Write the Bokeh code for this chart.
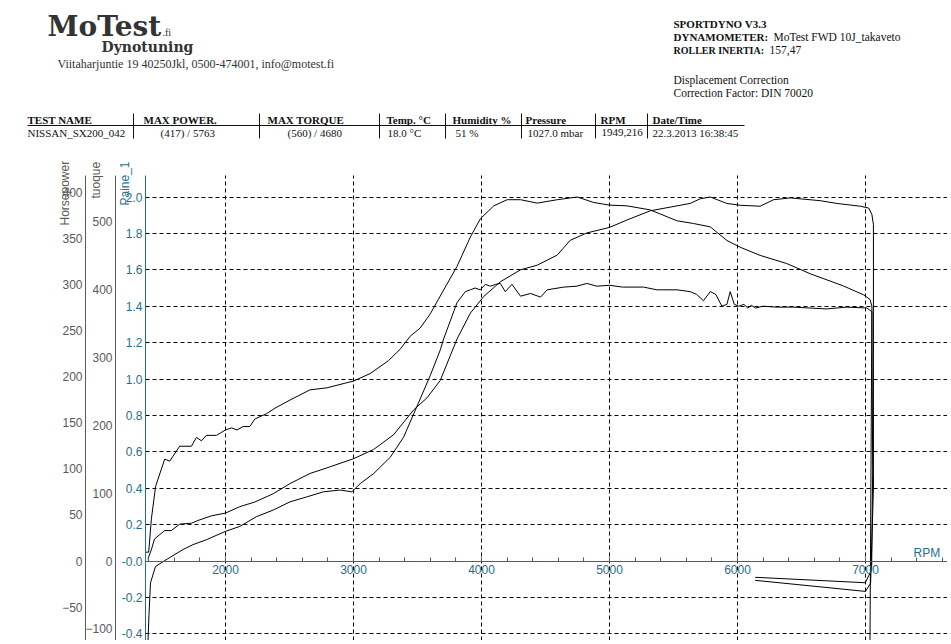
import math
from bokeh.plotting import figure
from bokeh.models import (Range1d, LinearAxis, FixedTicker, SingleIntervalTicker,
                          NumeralTickFormatter, Label, BoxAnnotation)
from bokeh.embed import file_html
from bokeh.resources import INLINE

# ---------------- data ----------------
torque_rpm = [1378, 1400, 1421, 1454, 1525, 1564, 1642, 1734, 1773, 1812, 1851, 1930, 2000, 2047, 2090,
              2138, 2190, 2229, 2321, 2386, 2504, 2660, 2791, 3000, 3130, 3273, 3365, 3443, 3521, 3600,
              3704, 3809, 3913, 3991, 4096, 4200, 4305, 4435, 4592, 4749, 4875, 5000, 5136, 5318, 5527,
              5656, 5787, 5917, 6021, 6177, 6385, 6568, 6828, 6984, 7036, 7050, 7056, 7048, 6998, 6138]
torque_nm = [13, 13, 62, 110, 150, 147, 169, 169, 182, 177, 185, 185, 193, 196, 193,
             198, 198, 209, 217, 225, 237, 252, 255, 265, 276, 295, 312, 331, 343, 364,
             399, 434, 477, 504, 523, 532, 532, 527, 532, 536, 528, 524, 523, 517, 501,
             497, 492, 472, 462, 450, 438, 423, 405, 392, 385, 375, 134, -13, -32, -24]

power_rpm = [1394, 1420, 1446, 1525, 1577, 1642, 1734, 1786, 1890, 2000, 2112, 2229, 2373, 2504, 2660,
             2791, 3000, 3157, 3313, 3470, 3574, 3678, 3809, 3913, 4017, 4147, 4305, 4435, 4592, 4693,
             4823, 5000, 5136, 5318, 5474, 5630, 5708, 5787, 5917, 6021, 6177, 6281, 6412, 6646, 6777,
             6959, 7025, 7050, 7062, 7062, 7040, 7000, 6138]
power_hp = [2, 12, 24, 33, 33, 40, 41, 44, 49, 52, 59, 64, 73, 84, 95,
            101, 111, 121, 137, 164, 177, 196, 241, 269, 287, 303, 316, 321, 332, 348,
            356, 362, 370, 380, 384, 388, 393, 395, 388, 386, 385, 392, 394, 391, 388,
            385, 383, 376, 365, 79, -24, -33, -21]

boost_rpm = [1394, 1402, 1414, 1453, 1544, 1590, 1668, 1746, 1851, 2000, 2112, 2243, 2373, 2504, 2634,
             2765, 2895, 2987, 3052, 3157, 3287, 3391, 3496, 3600, 3678, 3704, 3809, 3874, 3913, 3950,
             3990, 4030, 4069, 4110, 4147, 4186, 4238, 4305, 4383, 4461, 4513, 4643, 4745, 4823, 4900,
             5000, 5100, 5266, 5370, 5527, 5630, 5680, 5734, 5787, 5830, 5878, 5917, 5943, 5975, 6010,
             6050, 6080, 6110, 6140, 6200, 6300, 6437, 6697, 6854, 7011, 7050, 7035]
boost_bar = [-0.45, -0.30, -0.12, -0.03, 0.01, 0.03, 0.063, 0.09, 0.117, 0.163, 0.19, 0.244, 0.28, 0.325, 0.352,
             0.38, 0.39, 0.38, 0.425, 0.48, 0.57, 0.68, 0.85, 1.02, 1.16, 1.22, 1.42, 1.48, 1.49, 1.50,
             1.49, 1.52, 1.51, 1.52, 1.525, 1.48, 1.52, 1.455, 1.47, 1.45, 1.49, 1.505, 1.51, 1.525, 1.51,
             1.515, 1.505, 1.505, 1.49, 1.49, 1.48, 1.465, 1.43, 1.48, 1.465, 1.40, 1.41, 1.48, 1.41, 1.40,
             1.41, 1.39, 1.405, 1.39, 1.40, 1.395, 1.395, 1.385, 1.395, 1.39, 1.37, -0.45]

rpm_ticks = [2000, 3000, 4000, 5000, 6000, 7000]
paine_ticks = [-0.4, -0.2, 0.0, 0.2, 0.4, 0.6, 0.8, 1.0, 1.2, 1.4, 1.6, 1.8, 2.0]
hp_ticks = [-50, 0, 50, 100, 150, 200, 250, 300, 350, 400]
torque_ticks = [-100, 0, 100, 200, 300, 400, 500]

header_cols = ["TEST NAME", "MAX POWER.", "MAX TORQUE", "Temp. \u00b0C", "Humidity %", "Pressure", "RPM", "Date/Time"]
header_vals = ["NISSAN_SX200_042", "(417) / 5763", "(560) / 4680", "18.0 \u00b0C", "51 %", "1027.0 mbar",
               "1949,216", "22.3.2013 16:38:45"]

# ---------------- layout constants ----------------
W, H = 947, 640
PX_RPM = 0.128          # pixels per rpm
PX_UNIT = 182.0         # pixels per Paine_1 unit
X0S, RPM0 = 145, 1375   # page x of the Paine_1 axis and its rpm
Y0S = 560.5             # page y of the zero line
XMIN_F = RPM0 - X0S / PX_RPM
XMAX_F = XMIN_F + W / PX_RPM
YMAX_F = Y0S / PX_UNIT
YMIN_F = YMAX_F - H / PX_UNIT
YTOP = (Y0S - 175) / PX_UNIT       # top end of the chart axes
HPF, NMF = 197.5, 268.0            # hp and Nm per Paine_1 unit
TEAL = "#1f6f8b"
GREY = "#5a5a5a"


def DX(xs):
    return XMIN_F + xs / PX_RPM


def DY(ys):
    return YMAX_F - ys / PX_UNIT


p = figure(width=W, height=H, x_range=Range1d(XMIN_F, XMAX_F), y_range=Range1d(YMIN_F, YMAX_F),
           output_backend="svg", toolbar_location=None,
           min_border_left=0, min_border_top=0, min_border_right=0, min_border_bottom=0)
p.outline_line_color = None
p.background_fill_color = "white"
p.border_fill_color = "white"
p.extra_y_ranges = {"hp": Range1d(YMIN_F * HPF, YMAX_F * HPF), "nm": Range1d(YMIN_F * NMF, YMAX_F * NMF)}

# x axis through zero
xa = p.xaxis[0]
xa.fixed_location = 0
xa.bounds = (RPM0, XMAX_F)
xa.ticker = SingleIntervalTicker(interval=1000, num_minor_ticks=5)
xa.axis_line_color = TEAL
xa.major_tick_line_color = TEAL
xa.minor_tick_line_color = TEAL
xa.major_tick_in = 4
xa.major_tick_out = 0
xa.minor_tick_in = 4
xa.minor_tick_out = 0
xa.major_label_text_color = TEAL
xa.major_label_text_font = "Liberation Sans"
xa.major_label_text_font_size = "12px"
xa.major_label_standoff = 4

# Paine_1 axis
ya = p.yaxis[0]
ya.fixed_location = RPM0
ya.bounds = (YMIN_F, YTOP)
ya.ticker = FixedTicker(ticks=paine_ticks)
ya.formatter = NumeralTickFormatter(format="0.0")
ya.major_label_overrides = {0.0: "-0.0"}
ya.axis_line_color = TEAL
ya.major_tick_in = 0
ya.major_tick_out = 0
ya.minor_tick_line_color = None
ya.major_label_text_color = TEAL
ya.major_label_text_font = "Liberation Sans"
ya.major_label_text_font_size = "12px"
ya.major_label_standoff = 3

nm_axis = LinearAxis(y_range_name="nm", ticker=FixedTicker(ticks=torque_ticks),
                     fixed_location=DX(115), bounds=(YMIN_F * NMF, YTOP * NMF))
hp_axis = LinearAxis(y_range_name="hp", ticker=FixedTicker(ticks=hp_ticks),
                     fixed_location=DX(85), bounds=(YMIN_F * HPF, YTOP * HPF))
for ax in (nm_axis, hp_axis):
    ax.axis_line_color = GREY
    ax.major_tick_in = 0
    ax.major_tick_out = 0
    ax.minor_tick_line_color = None
    ax.major_label_text_color = GREY
    ax.major_label_text_font = "Liberation Sans"
    ax.major_label_text_font_size = "12px"
    ax.major_label_standoff = 3
p.add_layout(nm_axis, "left")
p.add_layout(hp_axis, "left")

grid_ok = True
try:
    p.xgrid[0].cross_bounds = (YMIN_F, YTOP)
    p.ygrid[0].cross_bounds = (RPM0, XMAX_F)
except Exception:
    grid_ok = False

if grid_ok:
    for g in (p.xgrid[0], p.ygrid[0]):
        g.grid_line_color = "black"
        g.grid_line_dash = "4 3"
        g.grid_line_width = 1
else:
    p.xgrid.visible = False
    p.ygrid.visible = False
    p.segment(x0=rpm_ticks, y0=[YMIN_F] * len(rpm_ticks), x1=rpm_ticks, y1=[YTOP] * len(rpm_ticks),
              line_color="black", line_dash="4 3", line_width=1)
    p.segment(x0=[RPM0] * len(paine_ticks), y0=paine_ticks, x1=[XMAX_F] * len(paine_ticks), y1=paine_ticks,
              line_color="black", line_dash="4 3", line_width=1)

# curves
p.line(torque_rpm, torque_nm, y_range_name="nm", line_color="black", line_width=1)
p.line(power_rpm, power_hp, y_range_name="hp", line_color="black", line_width=1)
p.line(boost_rpm, boost_bar, line_color="black", line_width=1)


def txt(t, xs, ys, size, color="#222222", font="Liberation Serif", style="normal",
        angle=0.0, align="left", baseline="middle"):
    p.add_layout(Label(x=DX(xs), y=DY(ys), text=t, text_font=font, text_font_size=f"{size}px",
                       text_font_style=style, text_color=color, angle=angle,
                       text_align=align, text_baseline=baseline))


# axis titles
txt("Horsepower", 64, 225, 12, GREY, "Liberation Sans", angle=math.pi / 2)
txt("tuoque", 95, 198, 12, GREY, "Liberation Sans", angle=math.pi / 2)
txt("Paine_1", 124, 205, 12, TEAL, "Liberation Sans", angle=math.pi / 2)
txt("RPM", 913, Y0S - 8, 12, TEAL, "Liberation Sans")

# header left
txt("MoTest", 47, 26, 28, "#333333", "DejaVu Serif", "bold")
txt(".fi", 162, 32, 10, "#333333", "Liberation Serif")
txt("Dynotuning", 101, 46, 14, "#333333", "DejaVu Serif", "bold")
txt("Viitaharjuntie 19 40250Jkl, 0500-474001, info@motest.fi", 57, 63.5, 12, "#333333")

# header right
txt("SPORTDYNO V3.3", 673, 23.5, 11, "#111111", style="bold")
txt("DYNAMOMETER:", 673, 36.5, 11, "#111111", style="bold")
txt("MoTest FWD 10J_takaveto", 773, 36.5, 11.5, "#111111")
txt("ROLLER INERTIA:", 673, 49.5, 10, "#111111", style="bold")
txt("157,47", 769, 49.5, 11.5, "#111111")
txt("Displacement Correction", 673, 79.5, 11.5, "#111111")
txt("Correction Factor: DIN 70020", 673, 92.5, 11.5, "#111111")

# table
col_x = [27, 143, 267, 386, 452, 525, 600, 652]
val_x = [27, 160, 287, 387, 455, 527, 601, 652]
for t, x in zip(header_cols, col_x):
    txt(t, x, 119.5, 11, "#111111", style="bold")
for t, x in zip(header_vals, val_x):
    txt(t, x, 132, 11, "#111111")

p.add_layout(BoxAnnotation(left=DX(27), right=DX(744), top=DY(124.5), bottom=DY(125.5),
                           fill_color="#111111", fill_alpha=1, line_alpha=0))
for sx in [133, 259, 379, 445, 521, 595, 647]:
    p.add_layout(BoxAnnotation(left=DX(sx - 0.5), right=DX(sx + 0.5), top=DY(113), bottom=DY(138),
                               fill_color="#111111", fill_alpha=1, line_alpha=0))

open("out.html", "w").write(file_html(p, INLINE))
